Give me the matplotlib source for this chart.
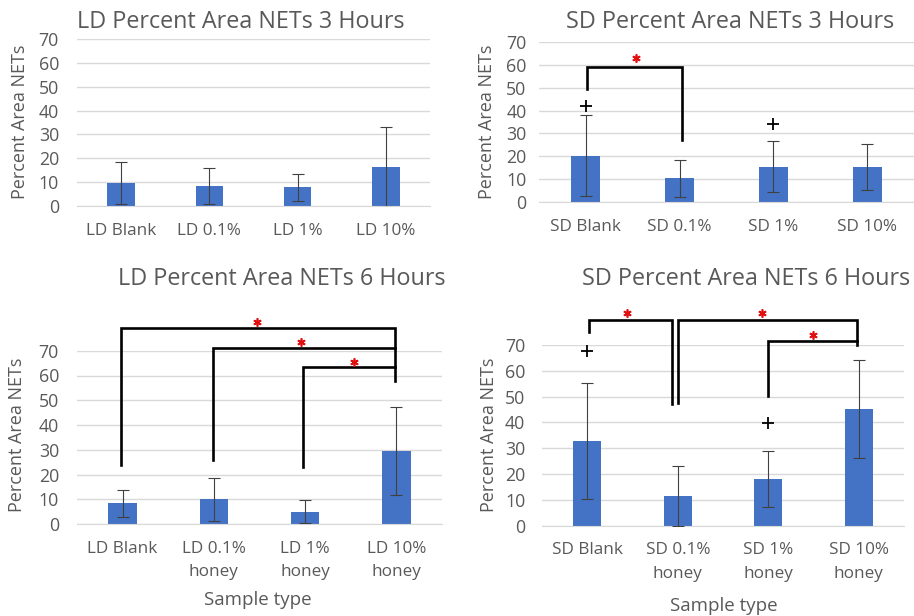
import numpy as np
import matplotlib
matplotlib.use("Agg")
import matplotlib.pyplot as plt

plt.rcParams['font.family'] = ['Open Sans', 'DejaVu Sans']

# group means and error bar half-widths (percent area NETs)
ld3_labels = ['LD Blank', 'LD 0.1%', 'LD 1%', 'LD 10%']
ld3_mean = [9.6, 8.4, 7.8, 16.4]
ld3_err = [8.8, 7.4, 5.5, 16.8]

sd3_labels = ['SD Blank', 'SD 0.1%', 'SD 1%', 'SD 10%']
sd3_mean = [20.3, 10.5, 15.5, 15.5]
sd3_err = [17.7, 8.1, 11.1, 10.0]

ld6_labels = ['LD Blank', 'LD 0.1%\nhoney', 'LD 1%\nhoney', 'LD 10%\nhoney']
ld6_mean = [8.4, 10.1, 5.1, 29.7]
ld6_err = [5.4, 8.6, 4.7, 17.7]

sd6_labels = ['SD Blank', 'SD 0.1%\nhoney', 'SD 1%\nhoney', 'SD 10%\nhoney']
sd6_mean = [32.8, 11.5, 18.1, 45.2]
sd6_err = [22.4, 11.8, 10.9, 19.0]

# significance brackets: (x_left, y_left_end, x_right, y_right_end, y_top)
sd3_brackets = [(0.01, 49.6, 1.03, 27.0, 59.0)]
ld6_brackets = [(-0.02, 23.8, 2.98, 57.7, 79.0),
                (0.99, 25.9, 2.98, 71.0, 71.0),
                (1.98, 23.2, 2.98, 63.6, 63.6)]
sd6_brackets = [(0.02, 75.2, 0.94, 47.1, 79.7),
                (1.00, 47.6, 2.98, 70.0, 79.7),
                (2.00, 50.2, 2.98, 71.5, 71.5)]

# red asterisks (x, y) and black plus signs (x, y)
sd3_stars = [(0.53, 63.0)]
ld6_stars = [(1.47, 81.7), (1.96, 73.6), (2.54, 65.5)]
sd6_stars = [(0.44, 82.5), (1.93, 82.5), (2.49, 74.0)]
sd3_plus = [(0, 42.0), (2, 34.0)]
sd6_plus = [(0, 67.5), (2, 39.7)]

W, H = 914, 616
fig = plt.figure(figsize=(W / 100, H / 100), dpi=100)
GREY = '#595959'
BLUE = '#4472C4'


def px_axes(x0, x1, y70, y0):
    return fig.add_axes([x0 / W, (H - y0) / H, (x1 - x0) / W, (y0 - y70) / H])


def draw_panel(ax, labels, mean, err, ypad, width=0.31):
    x = np.arange(len(labels))
    ax.bar(x, mean, width=width, color=BLUE, zorder=2)
    ax.errorbar(x, mean, yerr=err, fmt='none', ecolor='#404040',
                elinewidth=0.8, capsize=4.5, capthick=0.8, zorder=3)
    ax.set_xlim(-0.5, len(labels) - 0.5)
    ax.set_ylim(0, 70)
    ax.set_yticks(range(0, 71, 10))
    ax.set_xticks(x)
    ax.set_xticklabels(labels, fontsize=12.3, color=GREY, linespacing=1.6)
    ax.tick_params(axis='x', length=0, pad=12)
    ax.tick_params(axis='y', length=0, pad=ypad, labelsize=12.8, labelcolor=GREY)
    ax.yaxis.grid(True, color='#d9d9d9', lw=1)
    ax.set_axisbelow(True)
    for s in ['left', 'right', 'top']:
        ax.spines[s].set_visible(False)
    ax.spines['bottom'].set_color('#d9d9d9')


def draw_marks(ax, brackets, stars, plus):
    for xl, yl, xr, yr, yt in brackets:
        ax.plot([xl, xl, xr, xr], [yl, yt, yt, yr], color='black', lw=1.9,
                clip_on=False, zorder=4, solid_joinstyle='miter')
    for sx, sy in stars:
        ax.plot(sx, sy, marker=(6, 2, 0), ms=6, mew=1.2, color='#e01010',
                clip_on=False, zorder=5)
    for px, py in plus:
        ax.plot(px, py, marker='+', ms=8, mew=1.3, color='black',
                clip_on=False, zorder=5)


ax1 = px_axes(77, 430, 39, 206)
draw_panel(ax1, ld3_labels, ld3_mean, ld3_err, 13)

ax2 = px_axes(539, 914, 41.7, 202.3)
draw_panel(ax2, sd3_labels, sd3_mean, sd3_err, 9)
draw_marks(ax2, sd3_brackets, sd3_stars, sd3_plus)

ax3 = px_axes(77, 442, 350.7, 524.3)
draw_panel(ax3, ld6_labels, ld6_mean, ld6_err, 13)
draw_marks(ax3, ld6_brackets, ld6_stars, [])

ax4 = px_axes(542, 904, 345, 525.7)
draw_panel(ax4, sd6_labels, sd6_mean, sd6_err, 12)
draw_marks(ax4, sd6_brackets, sd6_stars, sd6_plus)

# titles, axis titles
title_kw = dict(fontsize=16.8, color=GREY, va='center')
fig.text(241 / W, 1 - 22 / H, 'LD Percent Area NETs 3 Hours', ha='center', **title_kw)
fig.text(730 / W, 1 - 22 / H, 'SD Percent Area NETs 3 Hours', ha='center', **title_kw)
fig.text(282 / W, 1 - 279 / H, 'LD Percent Area NETs 6 Hours', ha='center', **title_kw)
fig.text(582 / W, 1 - 279 / H, 'SD Percent Area NETs 6 Hours', ha='left', **title_kw)

ylab_kw = dict(fontsize=13, color=GREY, rotation=90, ha='center', va='center')
fig.text(20 / W, 1 - 122 / H, 'Percent Area NETs', **ylab_kw)
fig.text(487 / W, 1 - 122 / H, 'Percent Area NETs', **ylab_kw)
fig.text(17 / W, 1 - 435 / H, 'Percent Area NETs', **ylab_kw)
fig.text(489 / W, 1 - 435 / H, 'Percent Area NETs', **ylab_kw)

xlab_kw = dict(fontsize=13.5, color=GREY, ha='center', va='center')
fig.text(258 / W, 1 - 600 / H, 'Sample type', **xlab_kw)
fig.text(724 / W, 1 - 606 / H, 'Sample type', **xlab_kw)

fig.savefig('out.png', dpi=100)
